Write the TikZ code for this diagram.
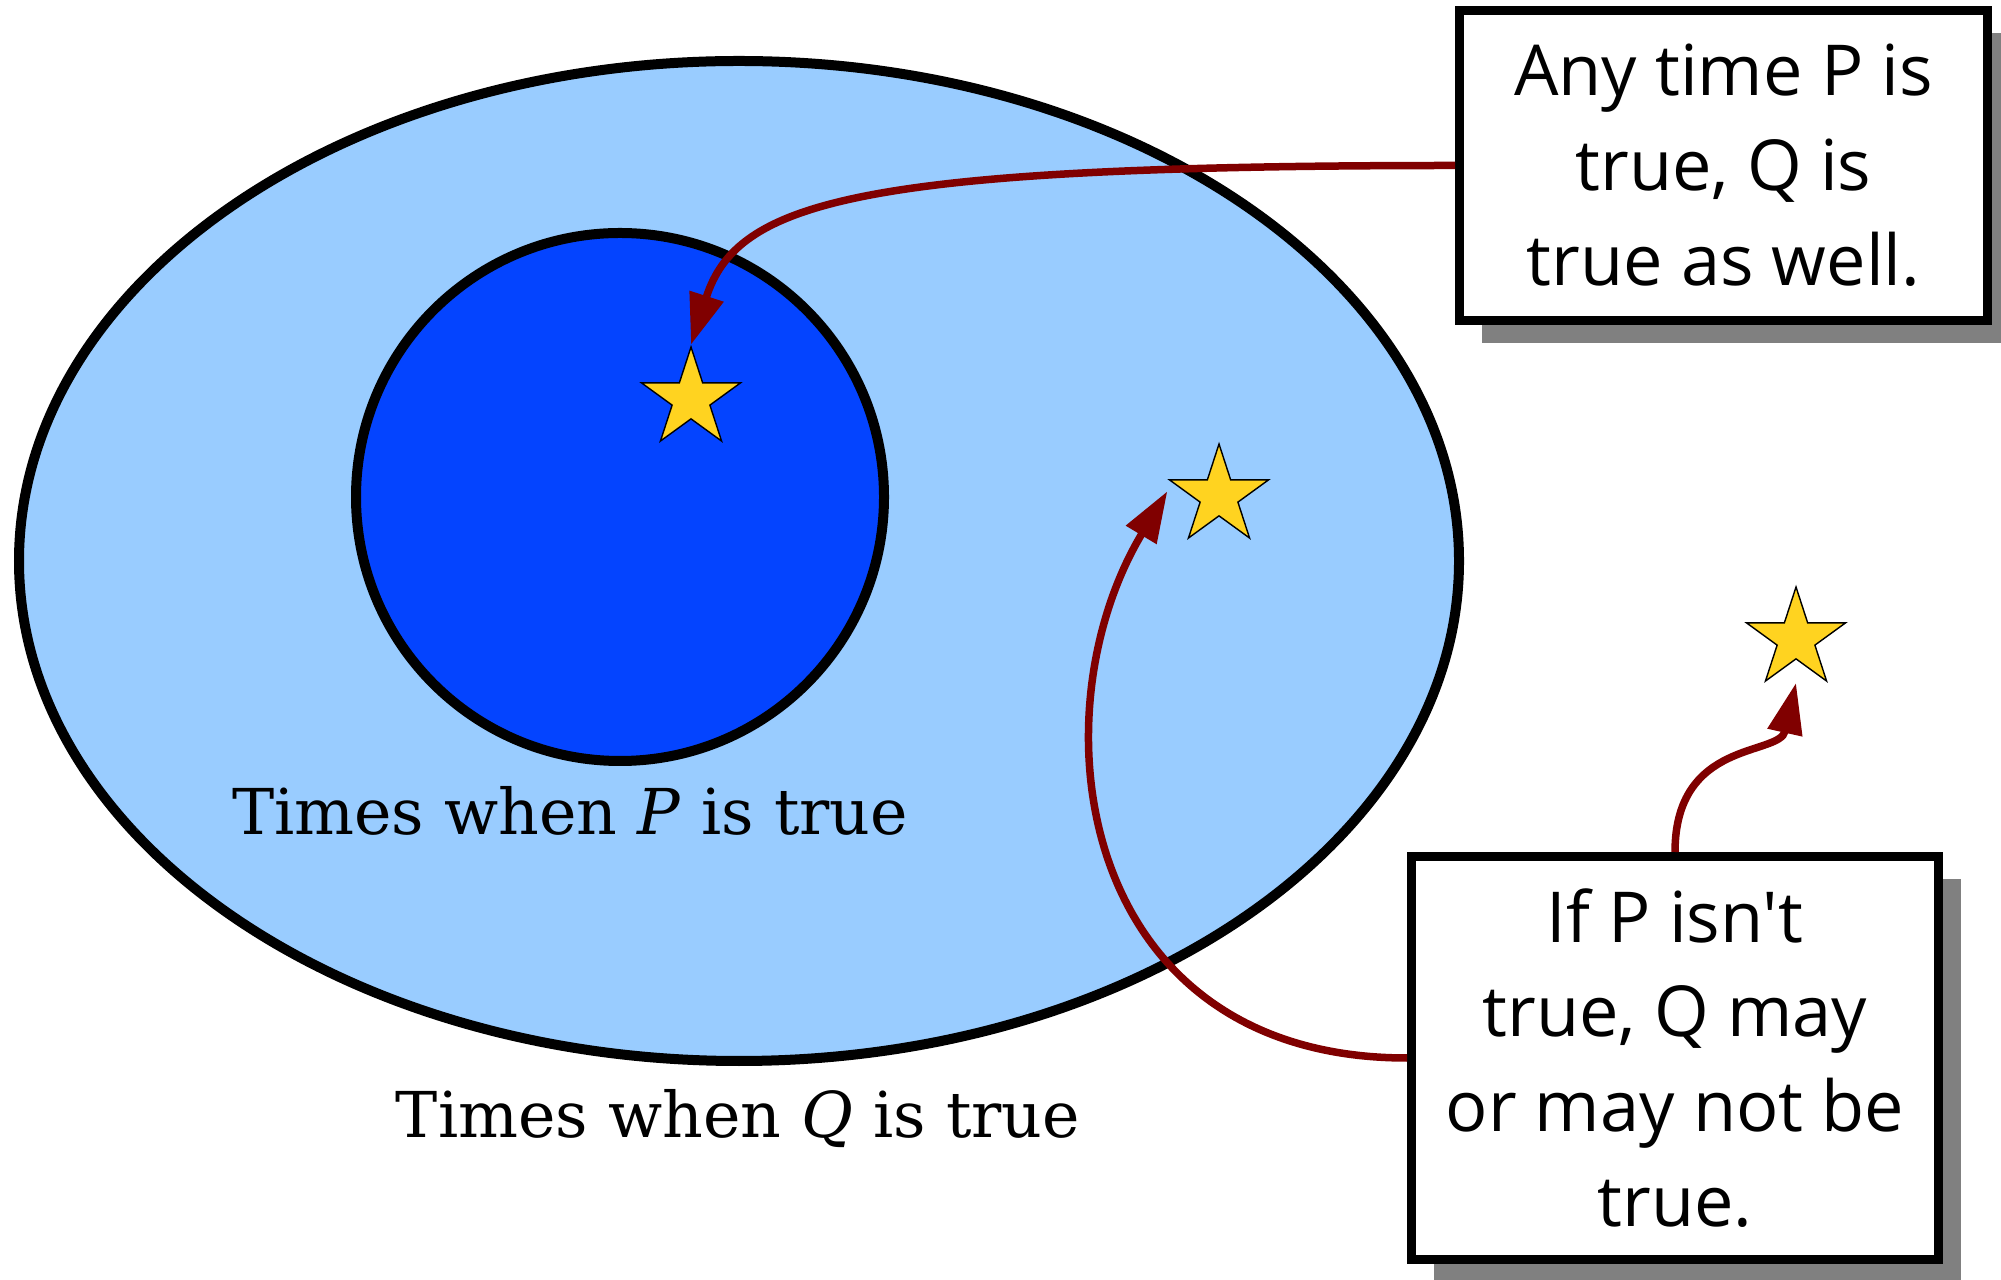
\documentclass[tikz,border=0pt]{standalone}
\usepackage{fontspec}
\setmainfont{DejaVu Serif}
\newfontfamily\handfont{Open Sans}
\usetikzlibrary{shapes.geometric,arrows.meta,shadows,calc}

\definecolor{qblue}{RGB}{153,204,255}
\definecolor{pblue}{RGB}{4,68,255}
\definecolor{staryellow}{RGB}{255,211,32}
\definecolor{arrowred}{RGB}{128,0,0}

\begin{document}
\begin{tikzpicture}[
    setline/.style={draw=black, line width=0.10cm},
    starnode/.style={star, star points=5, star point ratio=2.618, minimum size=1.04cm, inner sep=0pt, fill=staryellow, draw=black, line width=0.4pt},
    notebox/.style={rectangle, draw=black, line width=0.09cm, fill=white, align=center, inner sep=0pt, font=\handfont\fontsize{20}{27}\selectfont, drop shadow={shadow xshift=0.22cm, shadow yshift=-0.23cm, fill=black!50, opacity=1}},
    setlabel/.style={anchor=base, font=\fontsize{18}{22}\selectfont},
    arrow/.style={-{Triangle[length=0.51cm, width=0.34cm]}, draw=arrowred, line width=0.075cm}
]
\useasboundingbox (0,0) rectangle (20.01,-12.80);

% Sets
\filldraw[setline, fill=qblue] (7.39,-5.61) ellipse [x radius=7.20cm, y radius=5.00cm];
\filldraw[setline, fill=pblue] (6.20,-4.97) circle [radius=2.64cm];

% Set labels
\node[setlabel] (plabel) at (5.70,-8.35) {Times when \textit{P} is true};
\node[setlabel] (qlabel) at (7.38,-11.37) {Times when \textit{Q} is true};

% Stars
\node[starnode] (star1) at (6.91,-3.99) {};
\node[starnode] (star2) at (12.19,-4.96) {};
\node[starnode] (star3) at (17.96,-6.39) {};
\coordinate (star2tip) at ($(star2.outer point 2)+(0,-0.12)$);
\coordinate (star3tip) at ($(star3.outer point 3)!0.5!(star3.outer point 4)$);

% Notes
\node[notebox, minimum width=5.28cm, minimum height=3.10cm] (note1) at (17.235,-1.655) {Any time P is\\true, Q is\\true as well.};
\node[notebox, minimum width=5.27cm, minimum height=4.03cm] (note2) at (16.75,-10.58) {If P isn't\\true, Q may\\or may not be\\true.};

% Arrows
\draw[arrow] (note1.west) .. controls +(-6.0,0) and +(0.46,1.43) .. (star1.outer point 1);
\draw[arrow] (note2.west) .. controls +(-3.3,0) and +(-1.35,-2.25) .. (star2tip);
\draw[arrow] (note2.north) .. controls +(0,1.13) and +(-0.165,-0.735) .. (star3tip);

\end{tikzpicture}
\end{document}
